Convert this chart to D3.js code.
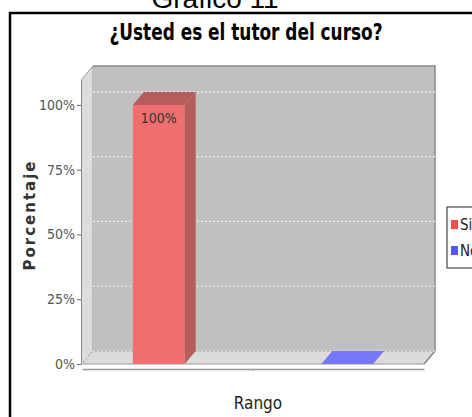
<!DOCTYPE html>
<html>
<head>
<meta charset="utf-8">
<script src="https://cdn.jsdelivr.net/npm/d3@7"></script>
<style>
  body { margin: 0; background: #fff; }
  svg { display: block; }
  .narrow { font-family: "DejaVu Sans Condensed", "DejaVu Sans", sans-serif; font-stretch: condensed; }
</style>
</head>
<body>
<div id="chart"></div>
<script>
/**** data ****/
var categories = ["Rango"];
var seriesNames = ["Si", "No"];
var seriesValues = [100, 0];
var yTicks = [0, 25, 50, 75, 100];

/**** config ****/
var width = 472,
    height = 417;

var seriesColors = ["#ef6f6f", "#7777fa"];
var seriesDark = ["#b55c5c", "#6b6be6"];
var legendColors = ["#f04f4f", "#5555ff"];

// 3d depth offset of the plot
var dx = 11, dy = 13;

// front plane of the plot
var plotLeft = 82, plotRight = 424, plotBottom = 364, plotTop = 79;

var svg = d3.select("#chart")
    .append("svg")
    .attr("width", width)
    .attr("height", height);

// page caption (cut off at the top)
svg.append("text")
    .attr("x", 215)
    .attr("y", 8)
    .attr("text-anchor", "middle")
    .style("font-family", "Liberation Sans, Arial, sans-serif")
    .style("font-size", "28px")
    .text("Gráfico 11");

// outer frame
svg.append("rect")
    .attr("x", 10).attr("y", 13)
    .attr("width", 500).attr("height", 450)
    .attr("fill", "#fff")
    .attr("stroke", "#000")
    .attr("stroke-width", 2.5);

// title
svg.append("text")
    .attr("class", "narrow")
    .attr("x", 246)
    .attr("y", 40)
    .attr("text-anchor", "middle")
    .attr("textLength", 273)
    .attr("lengthAdjust", "spacingAndGlyphs")
    .style("font-size", "23px")
    .style("font-weight", "bold")
    .text("¿Usted es el tutor del curso?");

/**** scales ****/
var y = d3.scaleLinear()
    .domain([0, 110])
    .range([plotBottom, plotTop]);

var xCat = d3.scaleBand()
    .domain(categories)
    .range([plotLeft, plotRight]);

var xSeries = d3.scaleBand()
    .domain(seriesNames)
    .range([plotLeft, plotRight])
    .paddingInner(0.725)
    .paddingOuter(0.27);

/**** 3d walls ****/
var walls = svg.append("g");

// left wall
walls.append("path")
    .attr("d", d3.line()([[plotLeft, plotTop], [plotLeft + dx, plotTop - dy],
        [plotLeft + dx, plotBottom - dy], [plotLeft, plotBottom]]))
    .attr("fill", "#dcdcdc")
    .attr("stroke", "#999");

// floor
walls.append("path")
    .attr("d", d3.line()([[plotLeft, plotBottom], [plotLeft + dx, plotBottom - dy],
        [plotRight + dx, plotBottom - dy], [plotRight, plotBottom]]) + "Z")
    .attr("fill", "#dcdcdc")
    .attr("stroke", "#999");

// back wall
walls.append("rect")
    .attr("x", plotLeft + dx)
    .attr("y", plotTop - dy)
    .attr("width", plotRight - plotLeft)
    .attr("height", plotBottom - plotTop)
    .attr("fill", "#c0c0c0");

walls.append("path")
    .attr("d", d3.line()([[plotLeft + dx, plotTop - dy], [plotRight + dx, plotTop - dy],
        [plotRight + dx, plotBottom - dy], [plotRight, plotBottom]]))
    .attr("fill", "none")
    .attr("stroke", "#888")
    .attr("stroke-width", 1.5);

// gridlines on back and left wall
var grid = walls.selectAll(".grid")
    .data(yTicks)
    .enter().append("g");

grid.append("line")
    .attr("x1", plotLeft + dx).attr("x2", plotRight + dx)
    .attr("y1", function(d) { return y(d) - dy; })
    .attr("y2", function(d) { return y(d) - dy; })
    .attr("stroke", "#eeeeee")
    .attr("stroke-width", 1.2)
    .attr("stroke-dasharray", "2,2");

grid.append("line")
    .attr("x1", plotLeft).attr("x2", plotLeft + dx)
    .attr("y1", function(d) { return y(d); })
    .attr("y2", function(d) { return y(d) - dy; })
    .attr("stroke", "#f2f2f2")
    .attr("stroke-dasharray", "2,2");

/**** bars ****/
var bars = svg.append("g")
    .selectAll("g")
    .data(seriesValues)
    .enter().append("g");

// front face
bars.append("rect")
    .attr("x", function(d, i) { return xSeries(seriesNames[i]); })
    .attr("y", function(d) { return y(d); })
    .attr("width", xSeries.bandwidth())
    .attr("height", function(d) { return y(0) - y(d); })
    .attr("fill", function(d, i) { return seriesColors[i]; });

// side face
bars.filter(function(d) { return d > 0; })
    .append("path")
    .attr("d", function(d, i) {
      var x1 = xSeries(seriesNames[i]) + xSeries.bandwidth();
      return d3.line()([[x1, y(d)], [x1 + dx, y(d) - dy], [x1 + dx, y(0) - dy], [x1, y(0)]]) + "Z";
    })
    .attr("fill", function(d, i) { return seriesDark[i]; });

// top face
bars.append("path")
    .attr("d", function(d, i) {
      var x0 = xSeries(seriesNames[i]), x1 = x0 + xSeries.bandwidth();
      return d3.line()([[x0, y(d)], [x0 + dx, y(d) - dy], [x1 + dx, y(d) - dy], [x1, y(d)]]) + "Z";
    })
    .attr("fill", function(d, i) { return d > 0 ? seriesDark[i] : seriesColors[i]; });

// value label
bars.filter(function(d) { return d > 0; })
    .append("text")
    .attr("class", "narrow")
    .attr("x", function(d, i) { return xSeries(seriesNames[i]) + xSeries.bandwidth() / 2; })
    .attr("y", function(d) { return y(d) + 18; })
    .attr("text-anchor", "middle")
    .style("font-size", "14px")
    .attr("fill", "#333")
    .text(function(d) { return d + "%"; });

/**** axes ****/
var yAxis = svg.append("g")
    .attr("transform", "translate(" + (plotLeft - 1) + ",0)")
    .call(d3.axisLeft(y).tickValues(yTicks).tickSize(4).tickSizeOuter(0)
      .tickFormat(function(d) { return d + "%"; }));

yAxis.select(".domain").attr("stroke", "#888");
yAxis.selectAll(".tick line").attr("stroke", "#666");
yAxis.selectAll(".tick text")
    .attr("class", "narrow")
    .attr("fill", "#555")
    .attr("x", -6)
    .style("font-size", "14px");
yAxis.attr("font-family", null);

var xAxis = svg.append("g")
    .attr("transform", "translate(0," + (plotBottom + 5) + ")")
    .call(d3.axisBottom(xCat).tickSize(2).tickSizeOuter(0).tickFormat(""));

xAxis.select(".domain").attr("stroke", "#999").attr("stroke-width", 1.5);
xAxis.selectAll(".tick line").attr("stroke", "#999");

// axis titles
svg.append("text")
    .attr("class", "narrow")
    .attr("x", xCat(categories[0]) + xCat.bandwidth() / 2 + 5)
    .attr("y", 409)
    .attr("text-anchor", "middle")
    .style("font-size", "17px")
    .attr("fill", "#222")
    .text("Rango");

svg.append("text")
    .attr("transform", "translate(35,215) rotate(-90)")
    .attr("text-anchor", "middle")
    .style("font-family", "DejaVu Sans, sans-serif")
    .style("font-size", "15px")
    .style("font-weight", "bold")
    .style("letter-spacing", "2px")
    .attr("fill", "#333")
    .text("Porcentaje");

/**** legend ****/
var legend = svg.append("g")
    .attr("transform", "translate(447,207)");

legend.append("rect")
    .attr("width", 60).attr("height", 61)
    .attr("fill", "#fff")
    .attr("stroke", "#222");

var items = legend.selectAll(".item")
    .data(seriesNames)
    .enter().append("g")
    .attr("transform", function(d, i) { return "translate(0," + (18 + i * 26) + ")"; });

items.append("rect")
    .attr("x", 4).attr("y", -5)
    .attr("width", 7).attr("height", 9)
    .attr("fill", function(d, i) { return legendColors[i]; });

items.append("text")
    .attr("class", "narrow")
    .attr("x", 13).attr("y", 5)
    .style("font-size", "15px")
    .attr("fill", "#222")
    .text(function(d) { return d; });
</script>
</body>
</html>
